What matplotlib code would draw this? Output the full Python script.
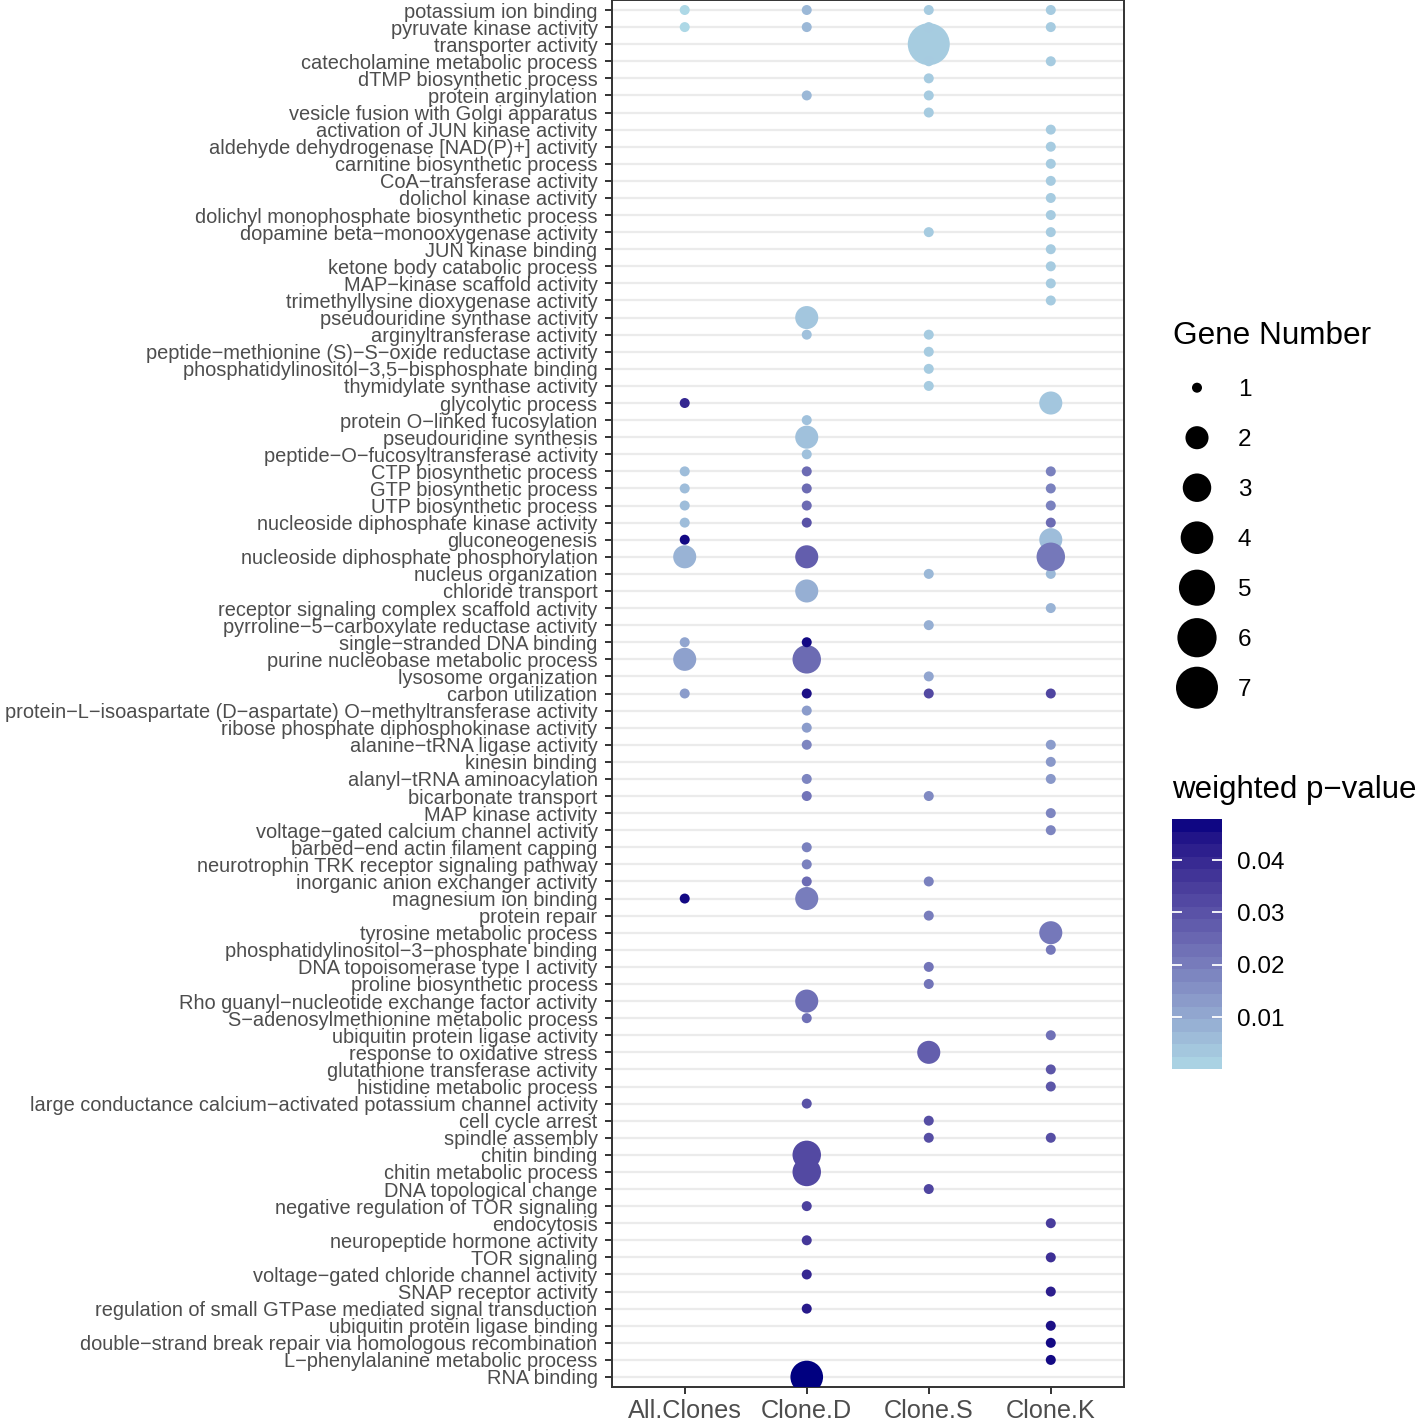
import numpy as np
import matplotlib
matplotlib.use("Agg")
import matplotlib.pyplot as plt
from matplotlib.colors import ListedColormap, Normalize
from matplotlib.cm import ScalarMappable

plt.rcParams['font.family'] = ['Liberation Sans', 'DejaVu Sans']

##### data #####

# GO terms, top to bottom
terms = [
    "potassium ion binding", "pyruvate kinase activity", "transporter activity",
    "catecholamine metabolic process", "dTMP biosynthetic process", "protein arginylation",
    "vesicle fusion with Golgi apparatus", "activation of JUN kinase activity",
    "aldehyde dehydrogenase [NAD(P)+] activity", "carnitine biosynthetic process",
    "CoA−transferase activity", "dolichol kinase activity",
    "dolichyl monophosphate biosynthetic process", "dopamine beta−monooxygenase activity",
    "JUN kinase binding", "ketone body catabolic process", "MAP−kinase scaffold activity",
    "trimethyllysine dioxygenase activity", "pseudouridine synthase activity",
    "arginyltransferase activity", "peptide−methionine (S)−S−oxide reductase activity",
    "phosphatidylinositol−3,5−bisphosphate binding", "thymidylate synthase activity",
    "glycolytic process", "protein O−linked fucosylation", "pseudouridine synthesis",
    "peptide−O−fucosyltransferase activity", "CTP biosynthetic process",
    "GTP biosynthetic process", "UTP biosynthetic process",
    "nucleoside diphosphate kinase activity", "gluconeogenesis",
    "nucleoside diphosphate phosphorylation", "nucleus organization", "chloride transport",
    "receptor signaling complex scaffold activity",
    "pyrroline−5−carboxylate reductase activity", "single−stranded DNA binding",
    "purine nucleobase metabolic process", "lysosome organization", "carbon utilization",
    "protein−L−isoaspartate (D−aspartate) O−methyltransferase activity",
    "ribose phosphate diphosphokinase activity", "alanine−tRNA ligase activity",
    "kinesin binding", "alanyl−tRNA aminoacylation", "bicarbonate transport",
    "MAP kinase activity", "voltage−gated calcium channel activity",
    "barbed−end actin filament capping", "neurotrophin TRK receptor signaling pathway",
    "inorganic anion exchanger activity", "magnesium ion binding", "protein repair",
    "tyrosine metabolic process", "phosphatidylinositol−3−phosphate binding",
    "DNA topoisomerase type I activity", "proline biosynthetic process",
    "Rho guanyl−nucleotide exchange factor activity",
    "S−adenosylmethionine metabolic process", "ubiquitin protein ligase activity",
    "response to oxidative stress", "glutathione transferase activity",
    "histidine metabolic process",
    "large conductance calcium−activated potassium channel activity",
    "cell cycle arrest", "spindle assembly", "chitin binding", "chitin metabolic process",
    "DNA topological change", "negative regulation of TOR signaling", "endocytosis",
    "neuropeptide hormone activity", "TOR signaling",
    "voltage−gated chloride channel activity", "SNAP receptor activity",
    "regulation of small GTPase mediated signal transduction",
    "ubiquitin protein ligase binding",
    "double−strand break repair via homologous recombination",
    "L−phenylalanine metabolic process", "RNA binding",
]

clones = ["All.Clones", "Clone.D", "Clone.S", "Clone.K"]

# (term, gene number, weighted p-value)
all_clones = [
    ("potassium ion binding", 1, 0.0001),
    ("pyruvate kinase activity", 1, 0.0001),
    ("glycolytic process", 1, 0.040),
    ("CTP biosynthetic process", 1, 0.006),
    ("GTP biosynthetic process", 1, 0.006),
    ("UTP biosynthetic process", 1, 0.006),
    ("nucleoside diphosphate kinase activity", 1, 0.006),
    ("gluconeogenesis", 1, 0.046),
    ("nucleoside diphosphate phosphorylation", 2, 0.008),
    ("single−stranded DNA binding", 1, 0.011),
    ("purine nucleobase metabolic process", 2, 0.012),
    ("carbon utilization", 1, 0.013),
    ("magnesium ion binding", 1, 0.046),
]

clone_d = [
    ("potassium ion binding", 1, 0.007),
    ("pyruvate kinase activity", 1, 0.007),
    ("protein arginylation", 1, 0.007),
    ("pseudouridine synthase activity", 2, 0.004),
    ("arginyltransferase activity", 1, 0.005),
    ("protein O−linked fucosylation", 1, 0.005),
    ("pseudouridine synthesis", 2, 0.005),
    ("peptide−O−fucosyltransferase activity", 1, 0.005),
    ("CTP biosynthetic process", 1, 0.024),
    ("GTP biosynthetic process", 1, 0.024),
    ("UTP biosynthetic process", 1, 0.024),
    ("nucleoside diphosphate kinase activity", 1, 0.030),
    ("nucleoside diphosphate phosphorylation", 2, 0.027),
    ("chloride transport", 2, 0.009),
    ("single−stranded DNA binding", 1, 0.046),
    ("purine nucleobase metabolic process", 3, 0.024),
    ("carbon utilization", 1, 0.045),
    ("protein−L−isoaspartate (D−aspartate) O−methyltransferase activity", 1, 0.013),
    ("ribose phosphate diphosphokinase activity", 1, 0.013),
    ("alanine−tRNA ligase activity", 1, 0.018),
    ("alanyl−tRNA aminoacylation", 1, 0.018),
    ("bicarbonate transport", 1, 0.022),
    ("barbed−end actin filament capping", 1, 0.019),
    ("neurotrophin TRK receptor signaling pathway", 1, 0.019),
    ("inorganic anion exchanger activity", 1, 0.024),
    ("magnesium ion binding", 2, 0.020),
    ("Rho guanyl−nucleotide exchange factor activity", 2, 0.023),
    ("S−adenosylmethionine metabolic process", 1, 0.023),
    ("large conductance calcium−activated potassium channel activity", 1, 0.030),
    ("chitin binding", 3, 0.032),
    ("chitin metabolic process", 3, 0.032),
    ("negative regulation of TOR signaling", 1, 0.034),
    ("neuropeptide hormone activity", 1, 0.036),
    ("voltage−gated chloride channel activity", 1, 0.040),
    ("regulation of small GTPase mediated signal transduction", 1, 0.043),
    ("RNA binding", 4, 0.0478),
]

clone_s = [
    ("potassium ion binding", 1, 0.003),
    ("pyruvate kinase activity", 1, 0.003),
    ("transporter activity", 7, 0.0028),
    ("catecholamine metabolic process", 1, 0.003),
    ("dTMP biosynthetic process", 1, 0.003),
    ("protein arginylation", 1, 0.003),
    ("vesicle fusion with Golgi apparatus", 1, 0.003),
    ("dopamine beta−monooxygenase activity", 1, 0.003),
    ("arginyltransferase activity", 1, 0.003),
    ("peptide−methionine (S)−S−oxide reductase activity", 1, 0.003),
    ("phosphatidylinositol−3,5−bisphosphate binding", 1, 0.003),
    ("thymidylate synthase activity", 1, 0.003),
    ("nucleus organization", 1, 0.007),
    ("pyrroline−5−carboxylate reductase activity", 1, 0.009),
    ("lysosome organization", 1, 0.011),
    ("carbon utilization", 1, 0.032),
    ("bicarbonate transport", 1, 0.017),
    ("inorganic anion exchanger activity", 1, 0.019),
    ("protein repair", 1, 0.020),
    ("DNA topoisomerase type I activity", 1, 0.022),
    ("proline biosynthetic process", 1, 0.022),
    ("response to oxidative stress", 2, 0.027),
    ("cell cycle arrest", 1, 0.031),
    ("spindle assembly", 1, 0.031),
    ("DNA topological change", 1, 0.033),
]

clone_k = [
    ("potassium ion binding", 1, 0.003),
    ("pyruvate kinase activity", 1, 0.003),
    ("catecholamine metabolic process", 1, 0.003),
    ("activation of JUN kinase activity", 1, 0.003),
    ("aldehyde dehydrogenase [NAD(P)+] activity", 1, 0.003),
    ("carnitine biosynthetic process", 1, 0.003),
    ("CoA−transferase activity", 1, 0.003),
    ("dolichol kinase activity", 1, 0.003),
    ("dolichyl monophosphate biosynthetic process", 1, 0.003),
    ("dopamine beta−monooxygenase activity", 1, 0.003),
    ("JUN kinase binding", 1, 0.003),
    ("ketone body catabolic process", 1, 0.003),
    ("MAP−kinase scaffold activity", 1, 0.003),
    ("trimethyllysine dioxygenase activity", 1, 0.003),
    ("glycolytic process", 2, 0.004),
    ("CTP biosynthetic process", 1, 0.019),
    ("GTP biosynthetic process", 1, 0.019),
    ("UTP biosynthetic process", 1, 0.019),
    ("nucleoside diphosphate kinase activity", 1, 0.024),
    ("gluconeogenesis", 2, 0.006),
    ("nucleoside diphosphate phosphorylation", 3, 0.021),
    ("nucleus organization", 1, 0.007),
    ("receptor signaling complex scaffold activity", 1, 0.008),
    ("carbon utilization", 1, 0.033),
    ("alanine−tRNA ligase activity", 1, 0.013),
    ("kinesin binding", 1, 0.014),
    ("alanyl−tRNA aminoacylation", 1, 0.014),
    ("MAP kinase activity", 1, 0.018),
    ("voltage−gated calcium channel activity", 1, 0.018),
    ("tyrosine metabolic process", 2, 0.021),
    ("phosphatidylinositol−3−phosphate binding", 1, 0.021),
    ("ubiquitin protein ligase activity", 1, 0.023),
    ("glutathione transferase activity", 1, 0.029),
    ("histidine metabolic process", 1, 0.029),
    ("spindle assembly", 1, 0.031),
    ("endocytosis", 1, 0.035),
    ("TOR signaling", 1, 0.038),
    ("SNAP receptor activity", 1, 0.042),
    ("ubiquitin protein ligase binding", 1, 0.045),
    ("double−strand break repair via homologous recombination", 1, 0.046),
    ("L−phenylalanine metabolic process", 1, 0.046),
]

gene_breaks = [1, 2, 3, 4, 5, 6, 7]
p_ticks = [0.01, 0.02, 0.03, 0.04]

##### colour scale: lightblue -> navy, interpolated in Lab like ggplot #####

WHITE = np.array([0.95047, 1.0, 1.08883])
M = np.array([[0.4124564, 0.3575761, 0.1804375],
              [0.2126729, 0.7151522, 0.0721750],
              [0.0193339, 0.1191920, 0.9503041]])


def rgb2lab(c):
    c = np.asarray(c, float)
    lin = np.where(c <= 0.04045, c / 12.92, ((c + 0.055) / 1.055) ** 2.4)
    t = (M @ lin) / WHITE
    d = 6 / 29
    f = np.where(t > d ** 3, np.cbrt(t), t / (3 * d * d) + 4 / 29)
    return np.array([116 * f[1] - 16, 500 * (f[0] - f[1]), 200 * (f[1] - f[2])])


def lab2rgb(lab):
    L, a, b = lab
    fy = (L + 16) / 116
    f = np.array([fy + a / 500, fy, fy - b / 200])
    d = 6 / 29
    t = np.where(f > d, f ** 3, 3 * d * d * (f - 4 / 29)) * WHITE
    lin = np.linalg.solve(M, t)
    c = np.where(lin <= 0.0031308, 12.92 * lin, 1.055 * np.clip(lin, 0, None) ** (1 / 2.4) - 0.055)
    return np.clip(c, 0, 1)


low = rgb2lab(np.array([173, 216, 230]) / 255)   # lightblue
high = rgb2lab(np.array([0, 0, 128]) / 255)      # navy


def grad(n):
    return [lab2rgb(low + (high - low) * f) for f in n]


cmap = ListedColormap(grad(np.linspace(0, 1, 256)))
cmap_bins = ListedColormap(grad((np.arange(20) + 0.5) / 20))

##### long form #####

xs, ys, genes, pvals = [], [], [], []
for ci, block in enumerate([all_clones, clone_d, clone_s, clone_k]):
    for term, g, p in block:
        xs.append(ci + 1)
        ys.append(terms.index(term) + 1)
        genes.append(g)
        pvals.append(p)
xs, ys, genes, pvals = map(np.array, (xs, ys, genes, pvals))

DPI = 100
gmin, gmax = min(gene_breaks), max(gene_breaks)


def dot_size(g):
    # diameter in px, area scaled between 10 and 42 px
    d = 10 + 32 * np.sqrt((np.asarray(g, float) - gmin) / (gmax - gmin))
    return (d * 72 / DPI) ** 2


norm = Normalize(vmin=pvals.min(), vmax=pvals.max())

##### plot #####

W, H = 1418, 1421
fig = plt.figure(figsize=(W / DPI, H / DPI), dpi=DPI)

ax = fig.add_axes([611.5 / W, (H - 1387.25) / H, (1124 - 611.5) / W, 1387.5 / H])
order = np.argsort(pvals, kind='stable')
ax.scatter(xs[order], ys[order], s=dot_size(genes[order]), c=pvals[order],
           cmap=cmap, norm=norm, linewidths=0, zorder=3)

ax.set_xlim(0.4, len(clones) + 0.6)
ax.set_ylim(len(terms) + 0.6, 0.4)
ax.set_xticks(range(1, len(clones) + 1))
ax.set_xticklabels(clones)
ax.set_yticks(range(1, len(terms) + 1))
ax.set_yticklabels(terms)

ax.set_axisbelow(True)
ax.yaxis.grid(True, color='#EBEBEB', linewidth=1.6)
ax.xaxis.grid(False)
for sp in ax.spines.values():
    sp.set_color('#333333')
    sp.set_linewidth(1.4)
ax.tick_params(length=5.2, width=1.4, color='#333333', labelcolor='#4D4D4D', pad=4.8)
ax.tick_params(axis='y', labelsize=14.45)
ax.tick_params(axis='x', labelsize=18.2, pad=3.6)

# size legend
fig.text(1173 / W, 1 - 344 / H, "Gene Number", fontsize=22.7, va='baseline', ha='left')
lax = fig.add_axes([1172 / W, (H - 712.7) / H, 246 / W, 350 / H])
lax.set_xlim(0, 1)
lax.set_ylim(len(gene_breaks) - 0.5, -0.5)
lax.axis('off')
key_rows = np.arange(len(gene_breaks))
lax.scatter(np.full(len(gene_breaks), 0.1016), key_rows, s=dot_size(gene_breaks),
            color='black', linewidths=0)
for r, g in zip(key_rows, gene_breaks):
    lax.text(0.268, r, str(g), fontsize=17.5, va='center_baseline', ha='left')

# colour legend
fig.text(1172 / W, 1 - 798 / H, "weighted p−value", fontsize=22.5, va='baseline', ha='left')
cax = fig.add_axes([1172 / W, (H - 1069) / H, 50 / W, 249.7 / H])
cb = fig.colorbar(ScalarMappable(norm=norm, cmap=cmap_bins), cax=cax)
cb.outline.set_visible(False)
cb.set_ticks(p_ticks)
cb.set_ticklabels([f"{t:.2f}" for t in p_ticks])
cax.tick_params(direction='in', length=7, width=1.3, color='white',
                left=True, right=True, labelleft=False, labelright=True,
                labelsize=17.5, pad=11)

plt.savefig('out.png', dpi=DPI)
